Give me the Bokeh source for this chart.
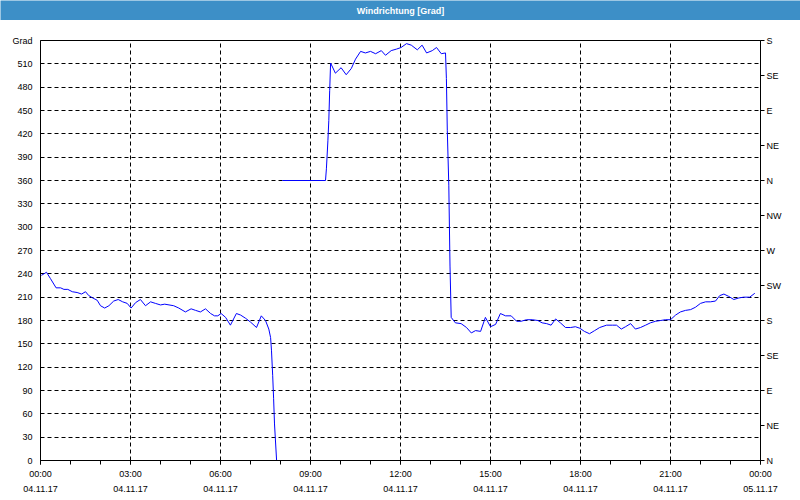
import numpy as np
from bokeh.plotting import figure
from bokeh.layouts import column
from bokeh.models import Range1d, LinearAxis, FixedTicker
from bokeh.core.properties import value
from bokeh.embed import file_html
from bokeh.resources import INLINE

NAN = float("nan")

# time of day in hours (04.11.17), wind direction in degrees
hours = [0.03, 0.20, 0.33, 0.52, 0.67, 0.78, 0.91, 1.06, 1.22, 1.37, 1.50, 1.61, 1.74, 1.89,
         2.00, 2.14, 2.28, 2.44, 2.59, 2.74, 2.89, 3.02, 3.17, 3.33, 3.50, 3.67, 3.83, 4.00,
         4.14, 4.44, 4.61, 4.83, 5.02, 5.17, 5.33, 5.50, 5.67, 5.80, 5.91, 6.02, 6.17, 6.33,
         6.53, 6.67, 6.83, 7.00, 7.20, 7.36, 7.50, 7.61, 7.67, 7.70, 7.74, 7.77, 7.80, 7.87,
         NAN,
         8.06, 9.50, 9.53, 9.58, 9.61, 9.64, 9.67, 9.83, 10.02, 10.19, 10.36, 10.50, 10.67,
         10.83, 11.00, 11.17, 11.36, 11.50, 11.69, 11.87, 12.02, 12.20, 12.36, 12.56, 12.72,
         12.87, 13.06, 13.20, 13.36, 13.50, 13.53, 13.56, 13.61, 13.65, 13.69, 13.83, 14.02,
         14.20, 14.36, 14.50, 14.67, 14.83, 15.00, 15.17, 15.33, 15.50, 15.69, 15.87, 16.02,
         16.20, 16.39, 16.58, 16.72, 16.87, 17.02, 17.17, 17.33, 17.50, 17.67, 17.83, 17.98,
         18.13, 18.30, 18.47, 18.64, 18.87, 19.06, 19.20, 19.36, 19.50, 19.67, 19.83, 20.00,
         20.17, 20.33, 20.50, 20.67, 20.83, 21.00, 21.17, 21.33, 21.50, 21.67, 21.83, 22.00,
         22.17, 22.33, 22.50, 22.64, 22.78, 22.94, 23.11, 23.28, 23.44, 23.64, 23.81]

grad = [238, 242, 234, 222, 222, 220, 220, 217, 216, 214, 217, 212, 209, 206,
        199, 196, 199, 205, 207, 204, 202, 196, 203, 207, 199, 204, 202, 200,
        201, 199, 196, 191, 195, 193, 191, 195, 189, 186, 186, 189, 184, 174,
        189, 187, 183, 178, 171, 186, 180, 169, 158, 141, 109, 80, 47, 0,
        NAN,
        360, 360, 375, 411, 437, 476, 511, 498, 505, 496, 504, 516, 526,
        524, 526, 523, 527, 521, 527, 529, 531, 536, 534, 528, 534,
        524, 527, 531, 523, 524, 491, 424, 354, 250, 184, 177, 176,
        171, 164, 167, 166, 184, 172, 175, 189, 186, 186, 179, 179,
        181, 181, 180, 177, 176, 174, 182, 177, 171, 171, 172, 170,
        166, 163, 167, 171, 174, 174, 174, 169, 172, 176, 169, 171,
        174, 177, 179, 180, 181, 181, 187, 191, 193, 194, 197, 202,
        204, 204, 205, 212, 214, 211, 207, 209, 210, 210, 215]

x_ticks = [0, 3, 6, 9, 12, 15, 18, 21, 24]
x_tick_labels = ["00:00\n04.11.17", "03:00\n04.11.17", "06:00\n04.11.17", "09:00\n04.11.17",
                 "12:00\n04.11.17", "15:00\n04.11.17", "18:00\n04.11.17", "21:00\n04.11.17",
                 "00:00\n05.11.17"]
x_minor = list(range(0, 25))
y_ticks = list(range(0, 541, 30))
y_top_label = "Grad"
compass_ticks = list(range(0, 541, 45))
compass_labels = ["N", "NE", "E", "SE", "S", "SW", "W", "NW", "N", "NE", "E", "SE", "S"]
title_text = "Windrichtung [Grad]"

FONT = "Liberation Sans"
BLUE = "#3d8fc7"
W = 800
TITLE_H = 20
MAIN_H = 480

# ---- title bar ----
tb = figure(width=W, height=TITLE_H, x_range=Range1d(0, 1), y_range=Range1d(0, 1),
            output_backend="svg", toolbar_location=None,
            x_axis_location=None, y_axis_location=None, min_border=0,
            background_fill_color=BLUE, border_fill_color=BLUE, outline_line_color=None,
            frame_align=False)
tb.grid.visible = False
tb.text(x=[0.5], y=[0.5], text=[title_text], text_align="center", text_baseline="middle",
        text_color="white", text_font=value(FONT), text_font_style="bold",
        text_font_size="9px")

# ---- main chart ----
p = figure(width=W, height=MAIN_H, x_range=Range1d(0, 24), y_range=Range1d(0, 540),
           output_backend="svg", toolbar_location=None,
           min_border_left=40, min_border_right=40, min_border_top=20, min_border_bottom=40,
           background_fill_color="white", border_fill_color="white",
           outline_line_color="black", outline_line_width=1, frame_align=False)

xa = p.xaxis[0]
xa.ticker = FixedTicker(ticks=x_ticks, minor_ticks=x_minor)
xa.major_label_overrides = {t: l for t, l in zip(x_ticks, x_tick_labels)}
xa.major_tick_in = 0
xa.major_tick_out = 4
xa.minor_tick_in = 0
xa.minor_tick_out = 4
xa.major_label_standoff = 4
xa.axis_line_color = "black"
xa.major_tick_line_color = "black"
xa.minor_tick_line_color = "black"
xa.major_label_text_font = FONT
xa.major_label_text_font_size = "9px"
xa.major_label_text_color = "black"
xa.major_label_text_line_height = 1.55

ya = p.yaxis[0]
ya.ticker = FixedTicker(ticks=y_ticks, minor_ticks=[])
ya.major_label_overrides = {540: y_top_label}
ya.major_tick_in = 0
ya.major_tick_out = 0
ya.minor_tick_in = 0
ya.minor_tick_out = 0
ya.major_label_standoff = 8
ya.axis_line_color = "black"
ya.major_label_text_font = FONT
ya.major_label_text_font_size = "9px"
ya.major_label_text_color = "black"

ra = LinearAxis(ticker=FixedTicker(ticks=compass_ticks, minor_ticks=[]),
                major_label_overrides={t: l for t, l in zip(compass_ticks, compass_labels)},
                major_tick_in=0, major_tick_out=4, minor_tick_in=0, minor_tick_out=0,
                major_label_standoff=2, axis_line_color="black",
                major_label_text_font=FONT, major_label_text_font_size="9px",
                major_label_text_color="black")
p.add_layout(ra, "right")

for g in (p.xgrid[0], p.ygrid[0]):
    g.grid_line_color = "black"
    g.grid_line_dash = "4 3"
    g.grid_line_width = 1

p.line(np.array(hours, dtype=float), np.array(grad, dtype=float),
       line_color="#0000ff", line_width=1)

layout = column(tb, p, spacing=0)
open("out.html", "w").write(file_html(layout, INLINE))
